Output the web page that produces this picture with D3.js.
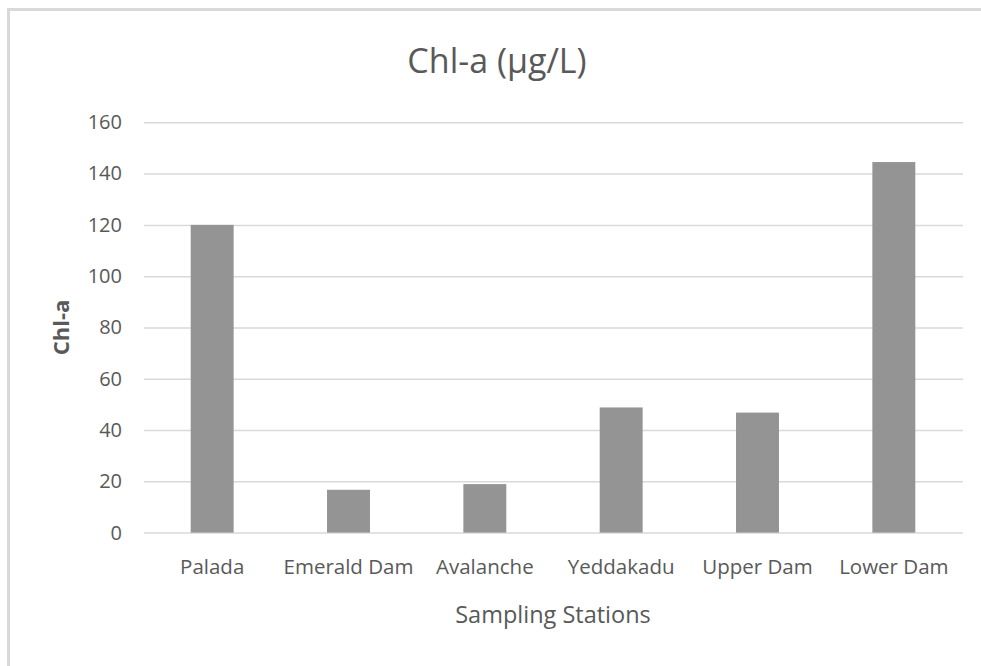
<!DOCTYPE html>
<html>
<head>
<meta charset="utf-8">
<script src="https://cdn.jsdelivr.net/npm/d3@7"></script>
<style>
  html, body { margin: 0; padding: 0; background: #fff; }
  svg { display: block; }
  text { font-family: "Open Sans", sans-serif; fill: #595959; }
</style>
</head>
<body>
<svg id="chart" width="981" height="666"></svg>
<script>
// Chlorophyll-a concentration per sampling station
const stations = ["Palada", "Emerald Dam", "Avalanche", "Yeddakadu", "Upper Dam", "Lower Dam"];
const chlA = [120, 16.7, 18.9, 48.8, 46.8, 144.5];
const yTicks = [0, 20, 40, 60, 80, 100, 120, 140, 160];

const svg = d3.select("#chart");
const plot = { left: 144, right: 962, top: 122.3, bottom: 532.6 };

// chart area frame (top and left edges visible)
svg.append("path")
  .attr("d", "M8.5,1000 V9.5 H1000")
  .attr("fill", "none")
  .attr("stroke", "#d9d9d9")
  .attr("stroke-width", 3);

const x = d3.scaleBand()
  .domain(stations)
  .range([plot.left, plot.right])
  .paddingInner(0.685)
  .paddingOuter(0.3425);

const y = d3.scaleLinear()
  .domain([0, 160])
  .range([plot.bottom, plot.top]);

// horizontal gridlines + y tick labels
const yAxis = d3.axisLeft(y)
  .tickValues(yTicks)
  .tickSize(-(plot.right - plot.left + 1))
  .tickPadding(22)
  .tickFormat(d3.format("d"));

const gy = svg.append("g")
  .attr("transform", `translate(${plot.left},0)`)
  .call(yAxis);
gy.select(".domain").remove();
gy.selectAll(".tick line").attr("stroke", "#d9d9d9").attr("stroke-width", 1.5);
gy.selectAll(".tick text")
  .attr("font-size", 20)
  .attr("fill", "#595959");

// bars
svg.append("g")
  .selectAll("rect")
  .data(stations)
  .join("rect")
  .attr("x", d => x(d))
  .attr("width", x.bandwidth())
  .attr("y", (d, i) => y(chlA[i]))
  .attr("height", (d, i) => y(0) - y(chlA[i]))
  .attr("fill", "#949494");

// x category labels
const xAxis = d3.axisBottom(x).tickSize(0).tickPadding(27);
const gx = svg.append("g")
  .attr("transform", `translate(0,${plot.bottom})`)
  .call(xAxis);
gx.select(".domain").remove();
gx.selectAll(".tick text").attr("font-size", 20.5).attr("fill", "#595959");

// title
svg.append("text")
  .attr("x", 497)
  .attr("y", 73)
  .attr("text-anchor", "middle")
  .attr("font-size", 34)
  .text("Chl-a (µg/L)");

// axis titles
svg.append("text")
  .attr("x", 553)
  .attr("y", 623)
  .attr("text-anchor", "middle")
  .attr("font-size", 23.5)
  .text("Sampling Stations");

svg.append("text")
  .attr("transform", `translate(69,${(plot.top + plot.bottom) / 2}) rotate(-90)`)
  .attr("text-anchor", "middle")
  .attr("font-size", 22)
  .attr("font-weight", "bold")
  .text("Chl-a");
</script>
</body>
</html>
